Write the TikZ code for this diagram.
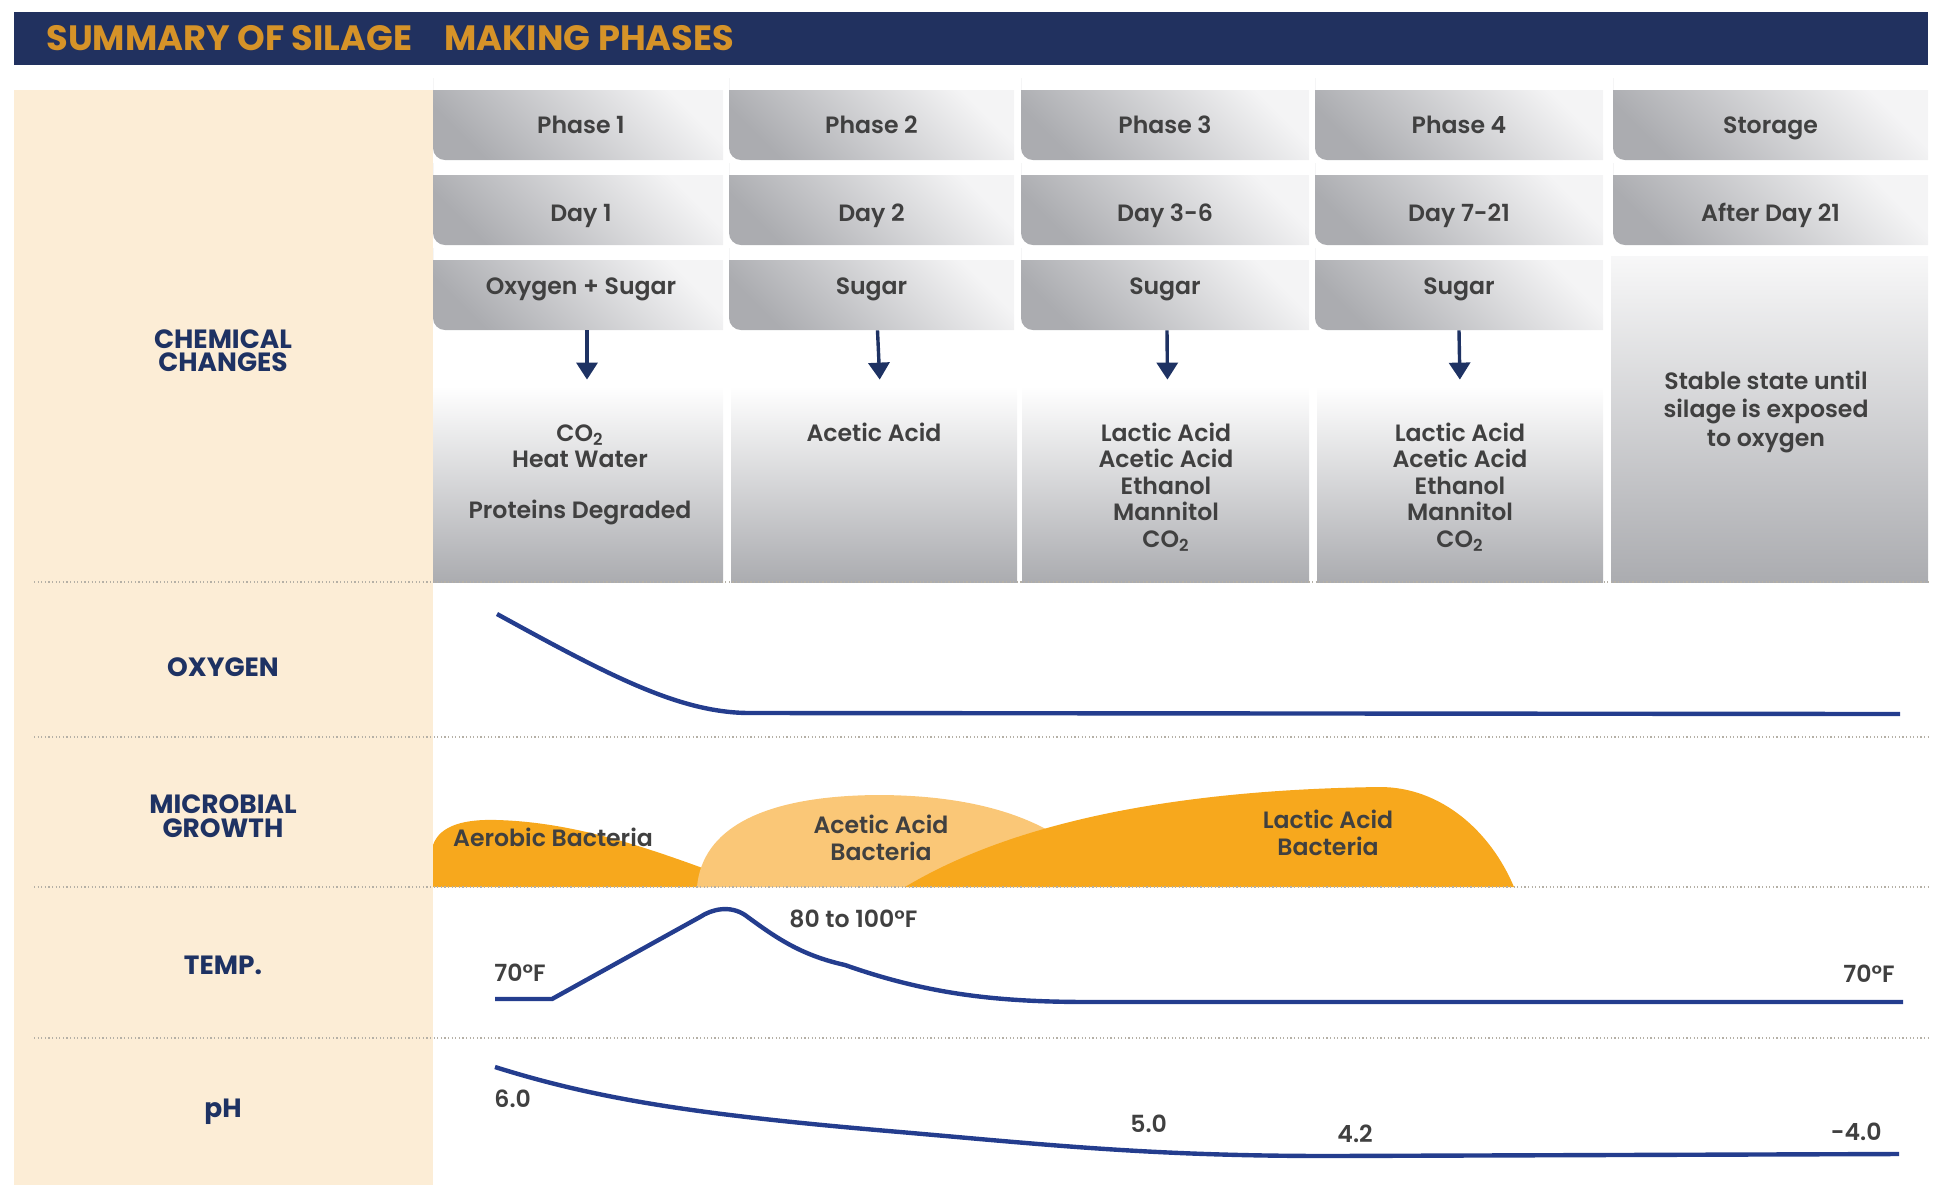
\documentclass[tikz,border=0pt]{standalone}
\usepackage{fontspec}
\setmainfont{Poppins}[UprightFont=* Medium, BoldFont=* SemiBold]
\newfontfamily\heavyfont{Poppins}[UprightFont=* Bold]
\usetikzlibrary{arrows.meta,fit}

\definecolor{barnavy}{HTML}{21315F}
\definecolor{titleorange}{HTML}{D69328}
\definecolor{panelbeige}{HTML}{FCEDD6}
\definecolor{labelnavy}{HTML}{1E3263}
\definecolor{curveblue}{HTML}{243D8E}
\definecolor{textgray}{HTML}{404040}
\definecolor{celllight}{HTML}{F4F4F5}
\definecolor{celldark}{HTML}{ABACB0}
\definecolor{bugorange}{HTML}{F7A81D}
\definecolor{buglight}{HTML}{FAC777}
\definecolor{rulegray}{HTML}{B5B0A6}

% grey cell, square on top and rounded at the bottom
\newcommand{\cellbox}[5]{%
  \shade[cellfill] (#2,#3) -- (#4,#3) -- (#4,#5) [rounded corners=6pt] -- (#2,#5) -- (#2,#3) [sharp corners] -- cycle;
  \node[fit={(#2,#3) (#4,#5)}, inner sep=0pt] (#1) {};
}

\begin{document}
\begin{tikzpicture}[x=0.5pt,y=-0.5pt,
  cellfill/.style={top color=celllight,bottom color=celldark,shading angle=-45},
  prodfill/.style={top color=white,bottom color=celldark},
  headtext/.style={font=\bfseries\fontsize{11.8}{13}\selectfont,text=textgray,inner sep=0pt,text height=8.3pt,text depth=0pt},
  prodtext/.style={font=\bfseries\fontsize{11.8}{13.25}\selectfont,text=textgray,inner sep=0pt,align=center,anchor=base},
  rowlabel/.style={font=\heavyfont\fontsize{13.2}{11.75}\selectfont,text=labelnavy,inner sep=0pt,align=center,anchor=base},
  buglabel/.style={font=\bfseries\fontsize{11.8}{13.5}\selectfont,text=textgray,inner sep=0pt,align=center,anchor=base},
  value/.style={font=\bfseries\fontsize{11.8}{13}\selectfont,text=textgray,inner sep=0pt,anchor=base},
  curve/.style={draw=curveblue,line width=2.2pt,line cap=butt,line join=round},
  flow/.style={draw=labelnavy,line width=1.7pt,-{Triangle[width=10.5pt,length=8.5pt]},shorten >=3pt},
  rule/.style={draw=rulegray,line width=0.6pt,dash pattern=on 0.6pt off 1.2pt}]
  \useasboundingbox (0,0) rectangle (1950,1185);

  % title bar
  \fill[barnavy] (14,12) rectangle (1928,65);
  \node[anchor=base west,inner sep=0pt,text=titleorange,font=\heavyfont\fontsize{17.6}{19}\selectfont]
    (title) at (46,50) {SUMMARY OF SILAGE\hspace{0.9em}MAKING PHASES};

  % row headings
  \fill[panelbeige] (14,90) rectangle (433,1185);
  \node[rowlabel] (chem) at (223,371.5) {CHEMICAL\\CHANGES};
  \node[rowlabel] (oxy) at (223,676) {OXYGEN};
  \node[rowlabel] (micro) at (223,837) {MICROBIAL\\GROWTH};
  \node[rowlabel] (temp) at (223,974) {TEMP.};
  \node[rowlabel] (ph) at (223,1117) {pH};

  % phase, day and substrate cells
  \cellbox{ph1}{433}{90}{723}{160}
  \cellbox{ph2}{729}{90}{1014}{160}
  \cellbox{ph3}{1021}{90}{1309}{160}
  \cellbox{ph4}{1315}{90}{1603}{160}
  \cellbox{store}{1613}{90}{1928}{160}
  \cellbox{day1}{433}{175}{723}{245}
  \cellbox{day2}{729}{175}{1014}{245}
  \cellbox{day3}{1021}{175}{1309}{245}
  \cellbox{day4}{1315}{175}{1603}{245}
  \cellbox{after}{1613}{175}{1928}{245}
  \cellbox{sub1}{433}{260}{723}{330}
  \cellbox{sub2}{729}{260}{1014}{330}
  \cellbox{sub3}{1021}{260}{1309}{330}
  \cellbox{sub4}{1315}{260}{1603}{330}

  \begin{scope}[every node/.style={headtext}]
  \node (ph1t) at ([xshift=1.5pt]ph1.center) {Phase 1};
  \node (ph2t) at (ph2) {Phase 2};
  \node (ph3t) at (ph3) {Phase 3};
  \node (ph4t) at (ph4) {Phase 4};
  \node (storet) at (store) {Storage};
  \node (day1t) at ([xshift=1.5pt,yshift=-1.5pt]day1.center) {Day 1};
  \node (day2t) at ([yshift=-1.5pt]day2.center) {Day 2};
  \node (day3t) at ([yshift=-1.5pt]day3.center) {Day 3-6};
  \node (day4t) at ([yshift=-1.5pt]day4.center) {Day 7-21};
  \node (aftert) at ([yshift=-1.5pt]after.center) {After Day 21};
  \node (sub1t) at ([xshift=1.5pt,yshift=4.5pt]sub1.center) {Oxygen + Sugar};
  \node (sub2t) at ([yshift=4.5pt]sub2.center) {Sugar};
  \node (sub3t) at ([yshift=4.5pt]sub3.center) {Sugar};
  \node (sub4t) at ([yshift=4.5pt]sub4.center) {Sugar};
  \end{scope}

  % products
  \node[prodfill,fit={(433,386) (723,582)},inner sep=0pt] (prod1) {};
  \node[prodfill,fit={(731,386) (1017,582)},inner sep=0pt] (prod2) {};
  \node[prodfill,fit={(1022,386) (1309,582)},inner sep=0pt] (prod3) {};
  \node[prodfill,fit={(1317,386) (1603,582)},inner sep=0pt] (prod4) {};
  \node[top color=celllight!70!white,bottom color=celldark,fit={(1611,256) (1928,582)},inner sep=0pt] (stable) {};

  % the base of a multi-line node is its last line
  \begin{scope}[every node/.style={prodtext}]
  \node (prod1t) at (580,467.5) {CO\textsubscript{2}\\Heat Water};
  \node (prod1b) at (580,518) {Proteins Degraded};
  \node (prod2t) at (874,441) {Acetic Acid};
  \node (prod3t) at (1166,547) {Lactic Acid\\Acetic Acid\\Ethanol\\Mannitol\\CO\textsubscript{2}};
  \node (prod4t) at (1460,547) {Lactic Acid\\Acetic Acid\\Ethanol\\Mannitol\\CO\textsubscript{2}};
  \node[font=\bfseries\fontsize{11.8}{14.25}\selectfont] (stablet) at (1766,446) {Stable state until\\silage is exposed\\to oxygen};
  \end{scope}

  \draw[flow] ([xshift=4.5pt]sub1.south) -- ([xshift=4.5pt]prod1.north);
  \draw[flow] ([xshift=3pt]sub2.south) -- ([xshift=3pt]prod2.north);
  \draw[flow] ([xshift=1pt]sub3.south) -- ([xshift=1pt]prod3.north);
  \draw[flow] (sub4.south) -- (prod4.north);

  % dotted row rules
  \coordinate (r1w) at (34,582);   \coordinate (r1e) at (1931,582);
  \coordinate (r2w) at (34,737);   \coordinate (r2e) at (1931,737);
  \coordinate (r3w) at (34,887);   \coordinate (r3e) at (1931,887);
  \coordinate (r4w) at (34,1038);  \coordinate (r4e) at (1931,1038);
  \draw[rule] (r1w) -- (r1e);
  \draw[rule] (r2w) -- (r2e);
  \draw[rule] (r4w) -- (r4e);

  % oxygen
  \draw[curve] (497,614) .. controls (610,676) and (680,713) .. (750,713) -- (1900,714);

  % microbial growth
  \fill[bugorange] (433,887) -- (433,845) .. controls (440,825) and (465,819) .. (497,820)
    .. controls (570,822) and (640,845) .. (708,870) -- (708,887) -- cycle;
  \fill[buglight] (697,887) .. controls (702,830) and (760,796) .. (877,795)
    .. controls (980,795) and (1040,820) .. (1075,848) -- (1075,887) -- cycle;
  \fill[bugorange] (905,887) .. controls (1000,830) and (1150,790) .. (1380,787)
    .. controls (1440,787) and (1490,830) .. (1514,887) -- cycle;
  \draw[rule] (r3w) -- (r3e);
  \node[buglabel] (aerobic) at (553,846) {Aerobic Bacteria};
  \node[buglabel] (acetic) at (881,860) {Acetic Acid\\Bacteria};
  \node[buglabel] (lactic) at (1328,855) {Lactic Acid\\Bacteria};

  % temperature
  \draw[curve] (495,999) -- (552,999) -- (700,917) .. controls (712,909) and (730,905) .. (745,915)
    .. controls (775,937) and (800,955) .. (845,965) .. controls (930,995) and (1000,1002) .. (1090,1002) -- (1903,1002);
  \node[value,anchor=base west] (t0) at (494,981) {70°F};
  \node[value,anchor=base west] (tmax) at (789,927) {80 to 100°F};
  \node[value,anchor=base east] (tend) at (1895,982) {70°F};

  % pH
  \draw[curve] (495,1067) .. controls (600,1100) and (700,1115) .. (900,1132)
    .. controls (1050,1145) and (1150,1156) .. (1330,1156) -- (1899,1154);
  \node[value,anchor=base west] (ph0) at (494,1107) {6.0};
  \node[value,anchor=base west] (ph1v) at (1130,1132) {5.0};
  \node[value,anchor=base west] (ph2v) at (1337,1142) {4.2};
  \node[value,anchor=base east] (ph3v) at (1882,1140) {-4.0};
\end{tikzpicture}
\end{document}
